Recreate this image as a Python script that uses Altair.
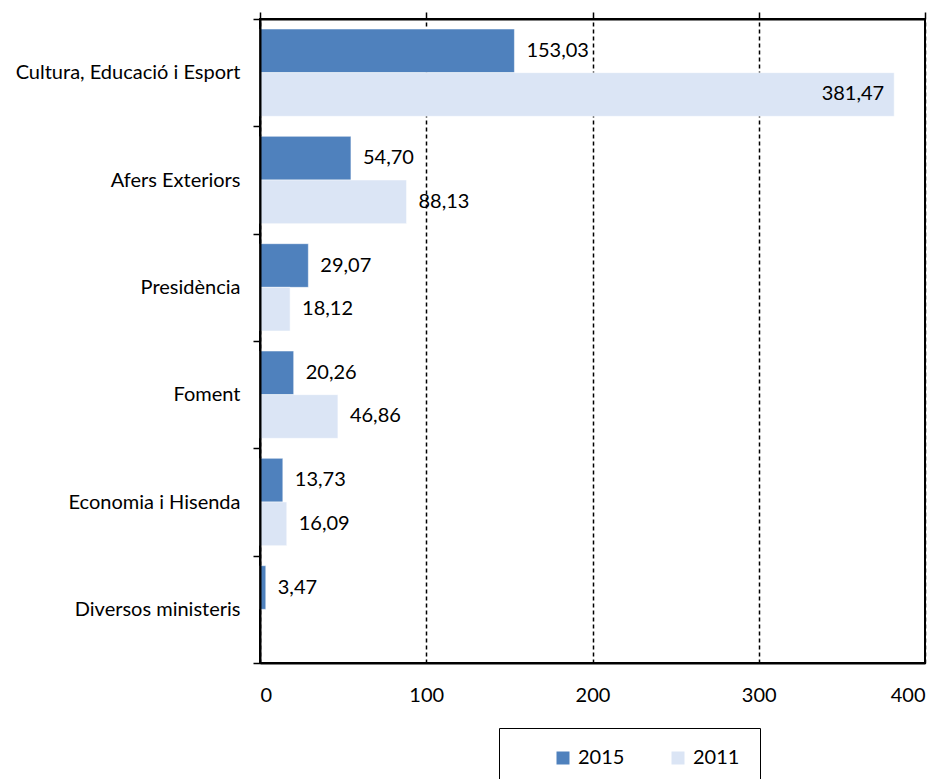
import altair as alt
import pandas as pd

categories = ["Cultura, Educació i Esport", "Afers Exteriors", "Presidència",
              "Foment", "Economia i Hisenda", "Diversos ministeris"]
values_2015 = [153.03, 54.70, 29.07, 20.26, 13.73, 3.47]
values_2011 = [381.47, 88.13, 18.12, 46.86, 16.09, None]
years = ["2015", "2011"]
colors = ["#4F81BD", "#DBE5F5"]
x_ticks = [0, 100, 200, 300, 400]

rows = []
for c, a, b in zip(categories, values_2015, values_2011):
    if a is not None:
        rows.append({"cat": c, "year": "2015", "value": a})
    if b is not None:
        rows.append({"cat": c, "year": "2011", "value": b})
df = pd.DataFrame(rows)

FONT = "Lato"
FS = 20

y_enc = alt.Y("cat:N", sort=categories, title=None,
              scale=alt.Scale(paddingInner=0, paddingOuter=0),
              axis=alt.Axis(tickBand="extent", tickSize=7, tickColor="black", tickWidth=1.5,
                            labelFont=FONT, labelFontSize=FS, labelColor="black",
                            labelPadding=13, labelLimit=400, domain=True, domainColor="black",
                            domainWidth=2, zindex=1))
yoff = alt.YOffset("year:N", sort=years,
                   scale=alt.Scale(paddingOuter=0.23, paddingInner=0))
xscale = alt.Scale(domain=[0, 400], nice=False, zero=True)

base = alt.Chart(df)

bars = base.mark_bar(stroke="white", strokeWidth=0.5).encode(
    x=alt.X("value:Q", scale=xscale, title=None,
            axis=alt.Axis(values=x_ticks, grid=True, gridColor="black", gridDash=[4, 3],
                          gridWidth=1.5, ticks=False, labelFont=FONT, labelFontSize=FS,
                          labelColor="black", labelPadding=22, domain=True,
                          domainColor="black", domainWidth=2, orient="bottom")),
    y=y_enc,
    yOffset=yoff,
    color=alt.Color("year:N", sort=years,
                    scale=alt.Scale(domain=years, range=colors),
                    legend=alt.Legend(title=None, orient="none", legendX=239, legendY=709,
                                      direction="horizontal", strokeColor="black",
                                      padding=20, symbolType="square", symbolSize=169,
                                      symbolStrokeWidth=0, labelFont=FONT, labelFontSize=FS,
                                      labelColor="black", labelOffset=5, columnPadding=9,
                                      symbolOffset=34, symbolOpacity=1)),
)

lab = "replace(format(datum.value, '.2f'), '.', ',')"

text_out = base.transform_filter("datum.value < 300").transform_calculate(lab=lab).mark_text(
    align="left", baseline="middle", dx=12, font=FONT, fontSize=FS, color="black"
).encode(
    x=alt.X("value:Q", scale=xscale),
    y=alt.Y("cat:N", sort=categories),
    yOffset=yoff,
    text="lab:N",
)

text_in = base.transform_filter("datum.value >= 300").transform_calculate(lab=lab).mark_text(
    align="right", baseline="middle", dx=-10, font=FONT, fontSize=FS, color="black"
).encode(
    x=alt.X("value:Q", scale=xscale),
    y=alt.Y("cat:N", sort=categories),
    yOffset=yoff,
    text="lab:N",
)

top_axis = base.mark_rule(opacity=0).encode(
    x=alt.X("value:Q", scale=xscale, title=None,
            axis=alt.Axis(orient="top", values=x_ticks, labels=False, grid=False,
                          ticks=True, tickSize=7, tickColor="black", tickWidth=1.5,
                          domain=True, domainColor="black", domainWidth=2)),
)

chart = alt.layer(alt.layer(bars, text_out, text_in), top_axis).resolve_scale(
    x="independent"
).properties(
    width=665, height=644,
    padding={"left": 252, "top": 11, "right": 13, "bottom": 116},
    autosize=alt.AutoSizeParams(type="none"),
).configure_view(stroke="black", strokeWidth=2)

chart.save("out.html", embed_options={"renderer": "svg", "actions": False})
